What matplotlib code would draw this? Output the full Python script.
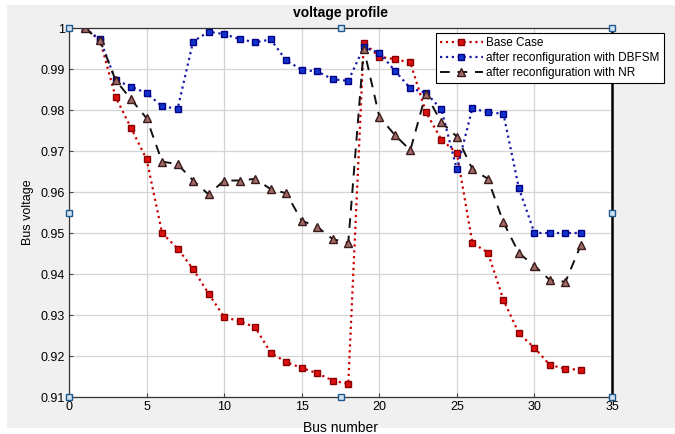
import numpy as np
import matplotlib
matplotlib.use("Agg")
import matplotlib.pyplot as plt
from matplotlib.patches import Rectangle

plt.rcParams["font.family"] = ["Liberation Sans", "DejaVu Sans"]

bus = list(range(1, 34))
base_case = [1.0, 0.9970, 0.9832, 0.9756, 0.9680, 0.9500, 0.9462, 0.9412, 0.9352,
             0.9295, 0.9285, 0.9270, 0.9208, 0.9185, 0.9171, 0.9158, 0.9140, 0.9132,
             0.9964, 0.9930, 0.9924, 0.9916, 0.9795, 0.9728, 0.9695, 0.9476, 0.9452,
             0.9337, 0.9255, 0.9220, 0.9178, 0.9169, 0.9166]
dbfsm = [1.0, 0.9972, 0.9873, 0.9857, 0.9841, 0.9809, 0.9803, 0.9967, 0.9991,
         0.9985, 0.9973, 0.9965, 0.9972, 0.9921, 0.9898, 0.9894, 0.9875, 0.9871,
         0.9953, 0.9940, 0.9896, 0.9853, 0.9842, 0.9802, 0.9655, 0.9804, 0.9794,
         0.9791, 0.9609, 0.9500, 0.9500, 0.9500, 0.9500]
nr = [1.0, 0.9970, 0.9873, 0.9826, 0.9780, 0.9674, 0.9668, 0.9628, 0.9594,
      0.9628, 0.9628, 0.9632, 0.9607, 0.9597, 0.9530, 0.9515, 0.9485, 0.9476,
      0.9950, 0.9784, 0.9739, 0.9702, 0.9839, 0.9770, 0.9735, 0.9656, 0.9632,
      0.9526, 0.9451, 0.9420, 0.9385, 0.9381, 0.9471]

y_ticks = [0.91, 0.92, 0.93, 0.94, 0.95, 0.96, 0.97, 0.98, 0.99, 1.0]
y_labels = ["0.91", "0.92", "0.93", "0.94", "0.95", "0.96", "0.97", "0.98", "0.99", "1"]
x_ticks = [0, 5, 10, 15, 20, 25, 30, 35]

fig = plt.figure(figsize=(6.75, 4.34), dpi=100)
# MATLAB-style grey figure area with thin white margin
fig.patches.append(Rectangle((7/675, 6/434), 1 - 7/675, 423/434, transform=fig.transFigure,
                             facecolor="#f0f0f0", edgecolor="none", zorder=-10))

ax = fig.add_axes([69/675, 37/434, 543/675, 369/434])
ax.set_facecolor("white")

ax.plot(bus, base_case, ":", color="#cc0000", lw=1.6, marker="s", ms=5,
        mfc="#dd1111", mec="#880000", mew=1.0, label="Base Case")
ax.plot(bus, dbfsm, ":", color="#1a1aaa", lw=1.6, marker="s", ms=5,
        mfc="#1133cc", mec="#000088", mew=1.0, label="after reconfiguration with DBFSM")
ax.plot(bus, nr, "--", color="#111111", lw=1.4, dashes=(5, 4), marker="^", ms=6,
        mfc="#a06a66", mec="#3a1a1a", mew=1.0, label="after reconfiguration with NR")

ax.set_xlim(0, 35)
ax.set_ylim(0.91, 1.0)
ax.set_xticks(x_ticks)
ax.set_yticks(y_ticks)
ax.set_yticklabels(y_labels)
ax.tick_params(direction="in", labelsize=9, length=3, color="#444444", pad=3)
ax.grid(True, color="#d4d4d4", lw=0.9)
ax.set_axisbelow(True)
for s in ["left", "bottom", "top"]:
    ax.spines[s].set_color("#333333")
    ax.spines[s].set_linewidth(0.9)
ax.spines["right"].set_color("black")
ax.spines["right"].set_linewidth(1.8)

ax.set_title("voltage profile", fontsize=10, fontweight="bold", pad=8)
ax.set_xlabel("Bus number", fontsize=10, labelpad=6)
ax.set_ylabel("Bus voltage", fontsize=9, labelpad=5)

leg = ax.legend(loc="upper left", bbox_to_anchor=(367/543, 1 - 5/369), fontsize=8.5,
                frameon=True, fancybox=False, framealpha=1, edgecolor="black",
                borderpad=0.35, labelspacing=0.25, handlelength=3.6, handletextpad=0.3,
                borderaxespad=0)
leg.get_frame().set_linewidth(0.8)
leg.set_zorder(5)

# selection handles at corners and mid-edges
hx = [0, 0.5, 1, 0, 1, 0, 0.5, 1]
hy = [1, 1, 1, 0.5, 0.5, 0, 0, 0]
ax.plot(hx, hy, "s", transform=ax.transAxes, clip_on=False, ms=4.5,
        mfc="#cfe3f3", mec="#1f5a8a", mew=1.0, zorder=10)

fig.savefig("out.png", dpi=100, facecolor="white")
